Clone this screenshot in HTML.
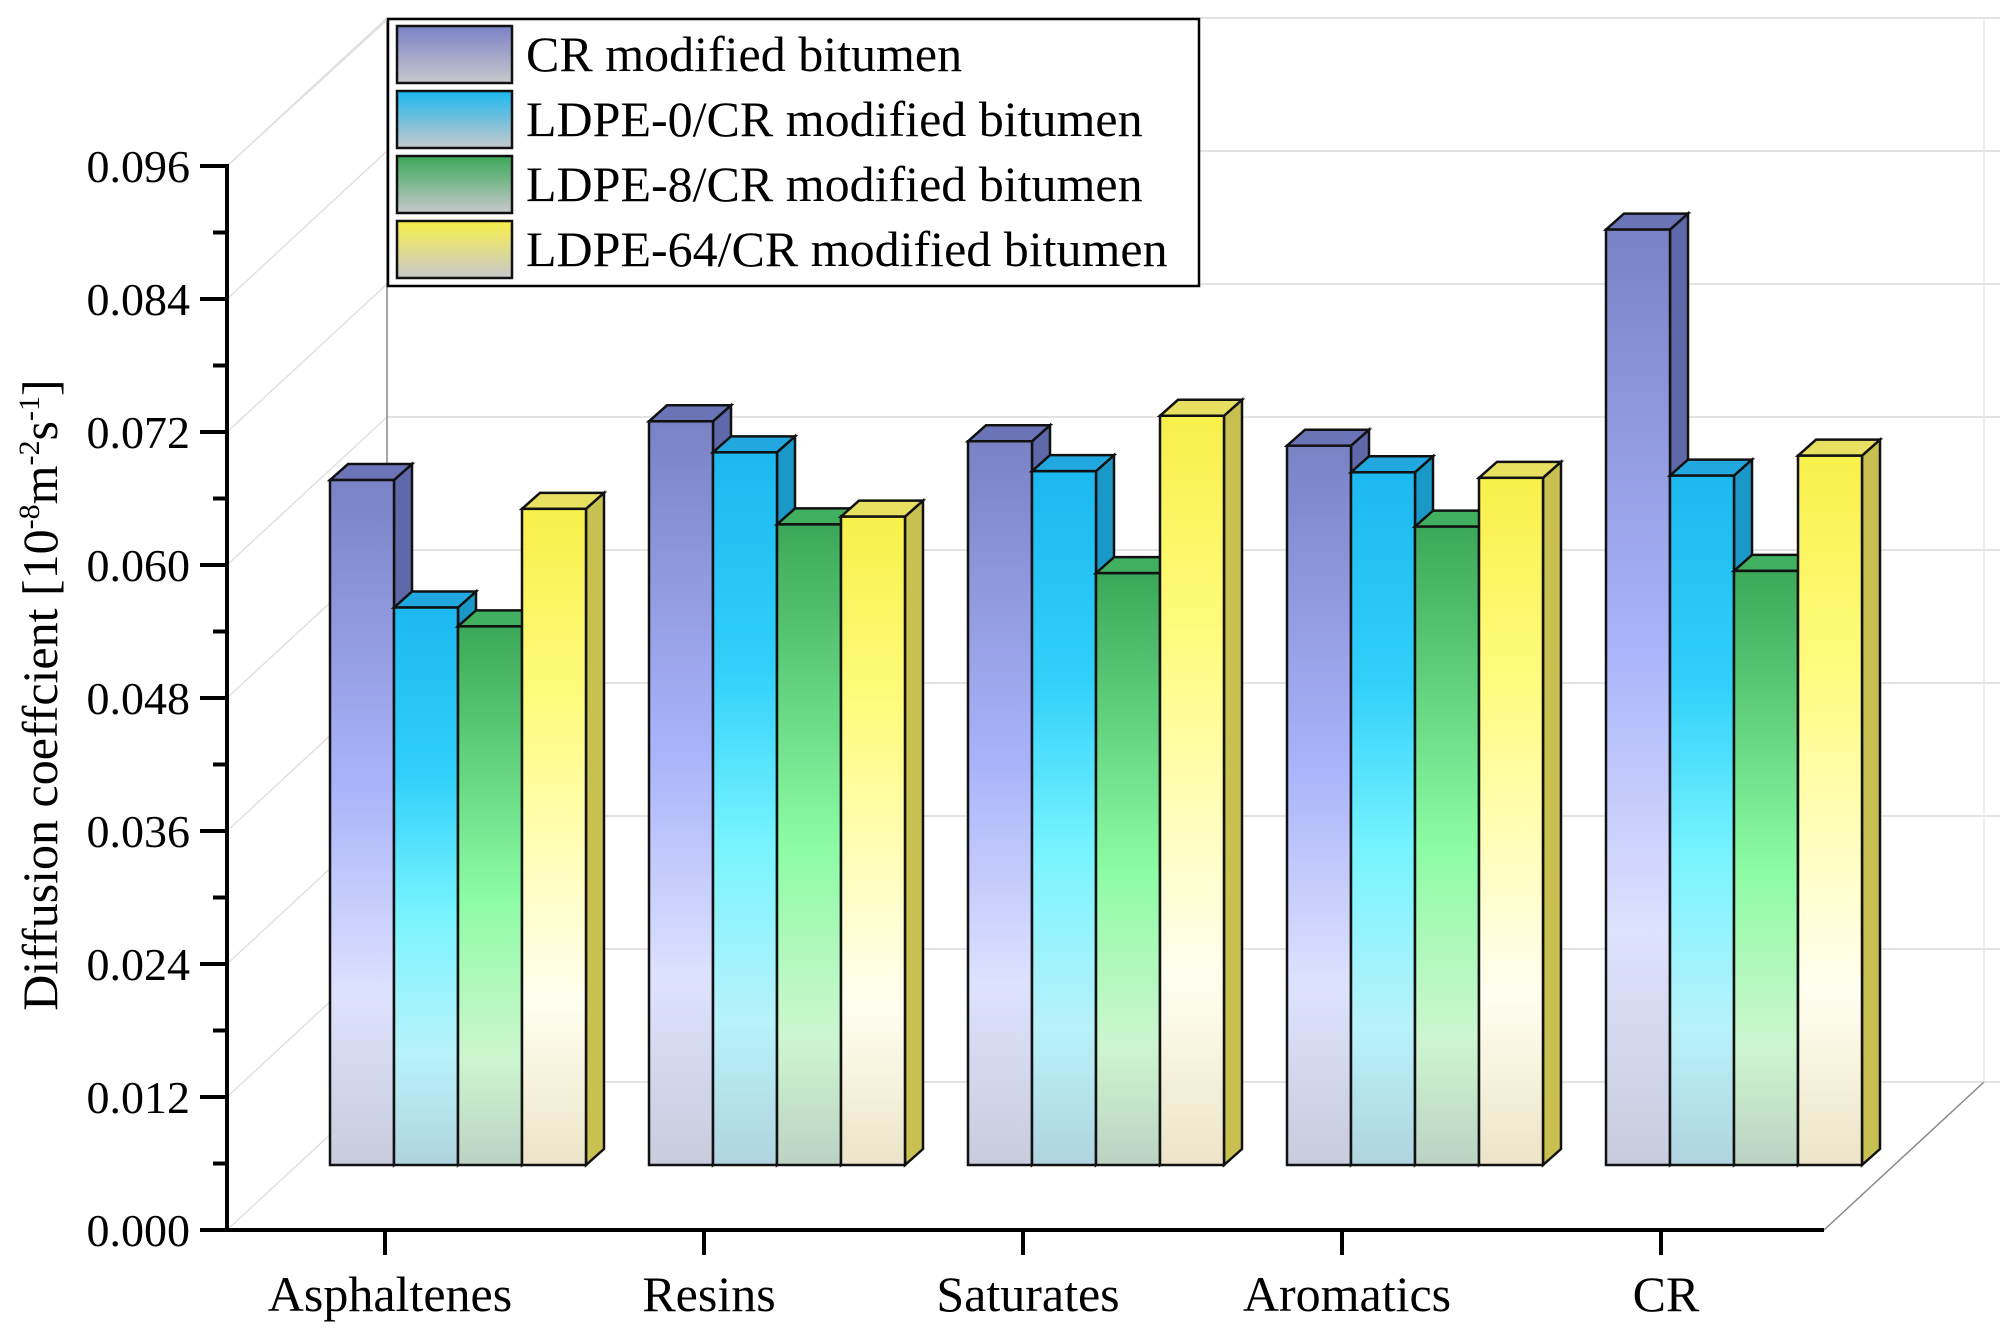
<!DOCTYPE html>
<html><head><meta charset="utf-8"><style>
html,body{margin:0;padding:0;background:#fff;}
svg{display:block;font-family:"Liberation Serif",serif;}
</style></head><body>
<svg id="chart" width="2000" height="1337" viewBox="0 0 2000 1337" xmlns="http://www.w3.org/2000/svg">
<defs>
<linearGradient id="g0" x1="0" y1="0" x2="0" y2="1"><stop offset="0" stop-color="#7a82c6"/><stop offset="0.45" stop-color="#aab4fa"/><stop offset="0.75" stop-color="#dde2fe"/><stop offset="1" stop-color="#c8ccdc"/></linearGradient>
<linearGradient id="g1" x1="0" y1="0" x2="0" y2="1"><stop offset="0" stop-color="#1cb8f0"/><stop offset="0.3" stop-color="#30d0fa"/><stop offset="0.55" stop-color="#78f4ff"/><stop offset="0.8" stop-color="#b8f2fa"/><stop offset="1" stop-color="#b0d4e0"/></linearGradient>
<linearGradient id="g2" x1="0" y1="0" x2="0" y2="1"><stop offset="0" stop-color="#3aa858"/><stop offset="0.5" stop-color="#8cfca4"/><stop offset="0.8" stop-color="#cdf6cf"/><stop offset="1" stop-color="#bcd2c4"/></linearGradient>
<linearGradient id="g3" x1="0" y1="0" x2="0" y2="1"><stop offset="0" stop-color="#f8f04a"/><stop offset="0.3" stop-color="#fffc80"/><stop offset="0.75" stop-color="#fffff0"/><stop offset="1" stop-color="#ece4c8"/></linearGradient>
<linearGradient id="l0" x1="0" y1="0" x2="0" y2="1"><stop offset="0" stop-color="#7a82c6"/><stop offset="1" stop-color="#c8c8cc"/></linearGradient>
<linearGradient id="l1" x1="0" y1="0" x2="0" y2="1"><stop offset="0" stop-color="#1cb8f0"/><stop offset="1" stop-color="#c8c8cc"/></linearGradient>
<linearGradient id="l2" x1="0" y1="0" x2="0" y2="1"><stop offset="0" stop-color="#3aa858"/><stop offset="1" stop-color="#c8c8cc"/></linearGradient>
<linearGradient id="l3" x1="0" y1="0" x2="0" y2="1"><stop offset="0" stop-color="#f8f04a"/><stop offset="1" stop-color="#c8c8cc"/></linearGradient>
</defs>
<g id="frame"></g>
<g id="bars"></g>
<g id="axes"></g>
<g id="legend"></g>
</svg>
<script>
const categories = ["Asphaltenes","Resins","Saturates","Aromatics","CR"];
const seriesNames = ["CR modified bitumen","LDPE-0/CR modified bitumen","LDPE-8/CR modified bitumen","LDPE-64/CR modified bitumen"];
const crValues = [0.0618,0.0671,0.0653,0.0649,0.0844];
const ldpe0Values = [0.0503,0.0643,0.0626,0.0625,0.0622];
const ldpe8Values = [0.0486,0.0578,0.0534,0.0576,0.0536];
const ldpe64Values = [0.0592,0.0585,0.0676,0.0620,0.0640];
const yTicks = [0,0.012,0.024,0.036,0.048,0.060,0.072,0.084,0.096];
const yTickLabels = ["0.000","0.012","0.024","0.036","0.048","0.060","0.072","0.084","0.096"];

const NS="http://www.w3.org/2000/svg";
const series=[crValues,ldpe0Values,ldpe8Values,ldpe64Values];
const sideCols=[["#5f68a8","#6c74b4"],["#1a98c8","#1da8d8"],["#2e8c48","#3a9a56"],["#c8c050","#d8d060"]];
const topCols=["#6c74b8","#22a8e0","#40b060","#e8e060"];
const AX=227, AY=1230, AXR=1824, ATOP=166;
const BDX=160, BDY=-148;
const FY0=1165;
const PPU=(AY-ATOP)/0.096;
function yAxis(v){return AY-v*PPU;}
function yBar(v){return FY0-v*PPU;}
function xGroup(i){return 330+i*319;}
const BW=64, DX=18, DY=-16;

function mk(tag,attrs,parent){const e=document.createElementNS(NS,tag);for(const k in attrs)e.setAttribute(k,attrs[k]);parent.appendChild(e);return e;}
const frame=document.getElementById('frame'),bars=document.getElementById('bars'),axes=document.getElementById('axes'),legend=document.getElementById('legend');

yTicks.forEach((t,i)=>{
  const y=yAxis(t);
  const gl=mk('line',{x1:AX+BDX,y1:y+BDY,x2:AXR+BDX+88,y2:y+BDY,stroke:'#dcdcdc','stroke-width':1.5},frame);
  
  
  const dl=mk('line',{x1:AX,y1:y,x2:AX+BDX,y2:y+BDY,stroke:'#e0e0e0','stroke-width':1.5},frame);
  
  
});
mk('line',{x1:AX+BDX,y1:AY+BDY,x2:AX+BDX,y2:20,stroke:'#888','stroke-width':1.5},frame);
mk('line',{x1:AX+BDX,y1:20,x2:AX,y2:ATOP,stroke:'#e0e0e0','stroke-width':1.5},frame);
mk('line',{x1:AXR,y1:AY,x2:AXR+160,y2:AY+BDY,stroke:'#888','stroke-width':1.5},frame);
mk('line',{x1:AXR+BDX,y1:AY+BDY,x2:AXR+BDX,y2:20,stroke:'#e8e8e8','stroke-width':1.5},frame);

categories.forEach((c,i)=>{
  series.forEach((arr,s)=>{
    const v=arr[i];
    const x=xGroup(i)+s*BW, yt=yBar(v), yb=FY0;
    const g=mk('g',{},bars);
    
    
    mk('polygon',{points:`${x+BW},${yt} ${x+BW+DX},${yt+DY} ${x+BW+DX},${yb+DY} ${x+BW},${yb}`,fill:sideCols[s][0],stroke:'#111','stroke-width':2.5},g);
    mk('polygon',{points:`${x},${yt} ${x+DX},${yt+DY} ${x+BW+DX},${yt+DY} ${x+BW},${yt}`,fill:topCols[s],stroke:'#111','stroke-width':2.5},g);
    mk('rect',{x:x,y:yt,width:BW,height:yb-yt,fill:`url(#g${s})`,stroke:'#111','stroke-width':2.5},g);
  });
});

const ya=mk('line',{x1:AX,y1:ATOP-2,x2:AX,y2:AY+2,stroke:'#000','stroke-width':4},axes);


const xa=mk('line',{x1:AX-2,y1:AY,x2:AXR,y2:AY,stroke:'#000','stroke-width':4},axes);


yTicks.forEach((t,i)=>{
  const y=yAxis(t);
  mk('line',{x1:AX-27,y1:y,x2:AX,y2:y,stroke:'#000','stroke-width':4},axes);
  if(i<yTicks.length-1){const ym=yAxis(t+0.006);mk('line',{x1:AX-14,y1:ym,x2:AX,y2:ym,stroke:'#000','stroke-width':4},axes);}
  const tx=mk('text',{x:190,y:y+16,'text-anchor':'end','font-size':46,fill:'#000'},axes);
  tx.textContent=yTickLabels[i];
  
  
});
categories.forEach((c,i)=>{
  const cx=xGroup(i)+55;
  mk('line',{x1:cx,y1:AY,x2:cx,y2:AY+25,stroke:'#000','stroke-width':4},axes);
  const tx=mk('text',{x:cx+5,y:1311,'text-anchor':'middle','font-size':50,fill:'#000'},axes);
  tx.textContent=c;
  
  
});
const yt=mk('text',{x:0,y:0,'text-anchor':'middle','font-size':50,fill:'#000',transform:'translate(57,695) rotate(-90)'},axes);
yt.innerHTML='Diffusion coeffcient [10<tspan font-size="30" dy="-18">-8</tspan><tspan dy="18">m</tspan><tspan font-size="30" dy="-18">-2</tspan><tspan dy="18">s</tspan><tspan font-size="30" dy="-18">-1</tspan><tspan dy="18">]</tspan>';



const lb=mk('rect',{x:388,y:19,width:811,height:267,fill:'#fff',stroke:'#000','stroke-width':2.5},legend);


seriesNames.forEach((n,s)=>{
  const y=26+s*65;
  const g=mk('g',{},legend);
  
  
  mk('rect',{x:397,y:y,width:115,height:57,fill:`url(#l${s})`,stroke:'#111','stroke-width':2.5},g);
  const t=mk('text',{x:526,y:y+45,'font-size':50,fill:'#000'},g);
  t.textContent=n;
});
</script>
</body></html>
